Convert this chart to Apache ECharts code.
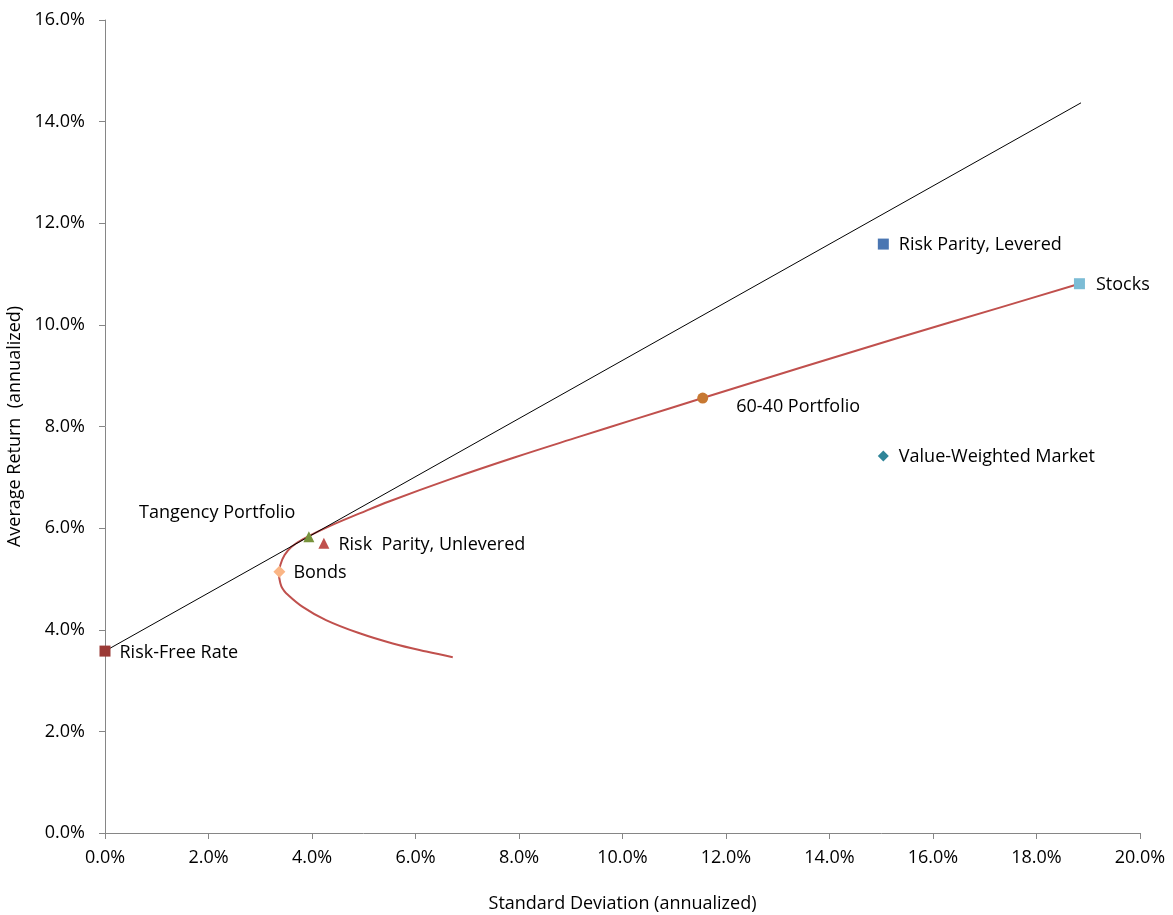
<!DOCTYPE html>
<html>
<head>
<meta charset="utf-8">
<script src="https://cdn.jsdelivr.net/npm/echarts@6/dist/echarts.min.js"></script>
<style>
html,body{margin:0;padding:0;background:#fff;}
#chart{width:1173px;height:915px;}
</style>
</head>
<body>
<div id="chart"></div>
<script>
// Efficient frontier (std dev %, return %)
const frontierSigma  = [6.72, 6.21, 5.56, 4.92, 4.27, 3.82, 3.50, 3.43, 3.39, 3.36, 3.39, 3.47, 3.60, 3.82, 4.34, 4.92, 5.50, 6.66, 7.91, 9.17, 10.26, 11.55, 13.42, 15.35, 17.29, 18.83];
const frontierReturn = [3.46, 3.57, 3.73, 3.93, 4.19, 4.45, 4.72, 4.81, 4.91, 5.10, 5.28, 5.47, 5.63, 5.78, 6.04, 6.29, 6.53, 6.96, 7.39, 7.80, 8.15, 8.56, 9.15, 9.75, 10.34, 10.81];

// Capital market line
const cmlSigma  = [0, 18.86];
const cmlReturn = [3.58, 14.37];

// Portfolios
const pointNames  = ["Risk-Free Rate", "Tangency Portfolio", "Risk  Parity, Unlevered", "Bonds", "60-40 Portfolio", "Stocks", "Risk Parity, Levered", "Value-Weighted Market"];
const pointSigma  = [0.00, 3.94, 4.23, 3.37, 11.55, 18.83, 15.04, 15.04];
const pointReturn = [3.58, 5.83, 5.70, 5.14, 8.56, 10.81, 11.59, 7.42];

// Axis ticks
const xTicks = [0, 2, 4, 6, 8, 10, 12, 14, 16, 18, 20];
const yTicks = [0, 2, 4, 6, 8, 10, 12, 14, 16];

const FONT = "Open Sans";
const FS = 18;
const styles = {
  "Risk-Free Rate":          {color: "#9B3A36", symbol: "rect",     size: 11, pos: "right",  offset: [4, 2]},
  "Tangency Portfolio":      {color: "#77933C", symbol: "triangle", size: 11, pos: "left",   offset: [-3, -24]},
  "Risk  Parity, Unlevered": {color: "#C0504D", symbol: "triangle", size: 11, pos: "right",  offset: [4, 2]},
  "Bonds":                   {color: "#FAB585", symbol: "diamond",  size: 12, pos: "right",  offset: [3, 1]},
  "60-40 Portfolio":         {color: "#C77832", symbol: "circle",   size: 11, pos: "right",  offset: [23, 9]},
  "Stocks":                  {color: "#7CBCD5", symbol: "rect",     size: 11, pos: "right",  offset: [6, 1]},
  "Risk Parity, Levered":    {color: "#4A76B2", symbol: "rect",     size: 11, pos: "right",  offset: [5, 1]},
  "Value-Weighted Market":   {color: "#2F8599", symbol: "diamond",  size: 11, pos: "right",  offset: [5, 1]}
};

const chart = echarts.init(document.getElementById('chart'));

const pointSeries = pointNames.map((n, i) => {
  const s = styles[n];
  return {
    type: 'scatter',
    name: n,
    z: 5,
    symbol: s.symbol,
    symbolSize: s.size,
    itemStyle: {color: s.color, opacity: 1},
    label: {
      show: true,
      formatter: n,
      position: s.pos,
      offset: s.offset,
      color: '#000',
      fontFamily: FONT,
      fontSize: FS
    },
    data: [[pointSigma[i], pointReturn[i]]]
  };
});

const axisLine = {show: true, lineStyle: {color: '#868686', width: 1}};
const pct = v => v.toFixed(1) + '%';

chart.setOption({
  animation: false,
  backgroundColor: '#fff',
  grid: {left: 105, right: 33, top: 20, bottom: 82, containLabel: false, outerBoundsMode: 'none'},
  xAxis: {
    type: 'value', min: 0, max: 20, interval: 2,
    name: 'Standard Deviation (annualized)',
    nameLocation: 'middle', nameGap: 62,
    nameTextStyle: {fontFamily: FONT, fontSize: FS, color: '#000'},
    axisLine: axisLine,
    axisTick: {show: true, length: 6, lineStyle: {color: '#868686'}},
    splitLine: {show: false},
    axisLabel: {formatter: v => xTicks.includes(v) ? pct(v) : '', fontFamily: FONT, fontSize: FS, color: '#000', margin: 16}
  },
  yAxis: {
    type: 'value', min: 0, max: 16, interval: 2,
    name: 'Average Return  (annualized)',
    nameLocation: 'middle', nameGap: 77,
    nameTextStyle: {fontFamily: FONT, fontSize: FS, color: '#000'},
    axisLine: axisLine,
    axisTick: {show: true, length: 6, lineStyle: {color: '#868686'}},
    splitLine: {show: false},
    axisLabel: {formatter: v => yTicks.includes(v) ? pct(v) : '', fontFamily: FONT, fontSize: FS, color: '#000', margin: 20}
  },
  series: [
    {
      type: 'line', name: 'Frontier', z: 3,
      smooth: 0.4, showSymbol: false, symbol: 'none',
      lineStyle: {color: '#C0504D', width: 2},
      data: frontierSigma.map((x, i) => [x, frontierReturn[i]])
    },
    {
      type: 'line', name: 'CML', z: 4,
      showSymbol: false, symbol: 'none',
      lineStyle: {color: '#000', width: 1},
      data: cmlSigma.map((x, i) => [x, cmlReturn[i]])
    }
  ].concat(pointSeries)
});
</script>
</body>
</html>
